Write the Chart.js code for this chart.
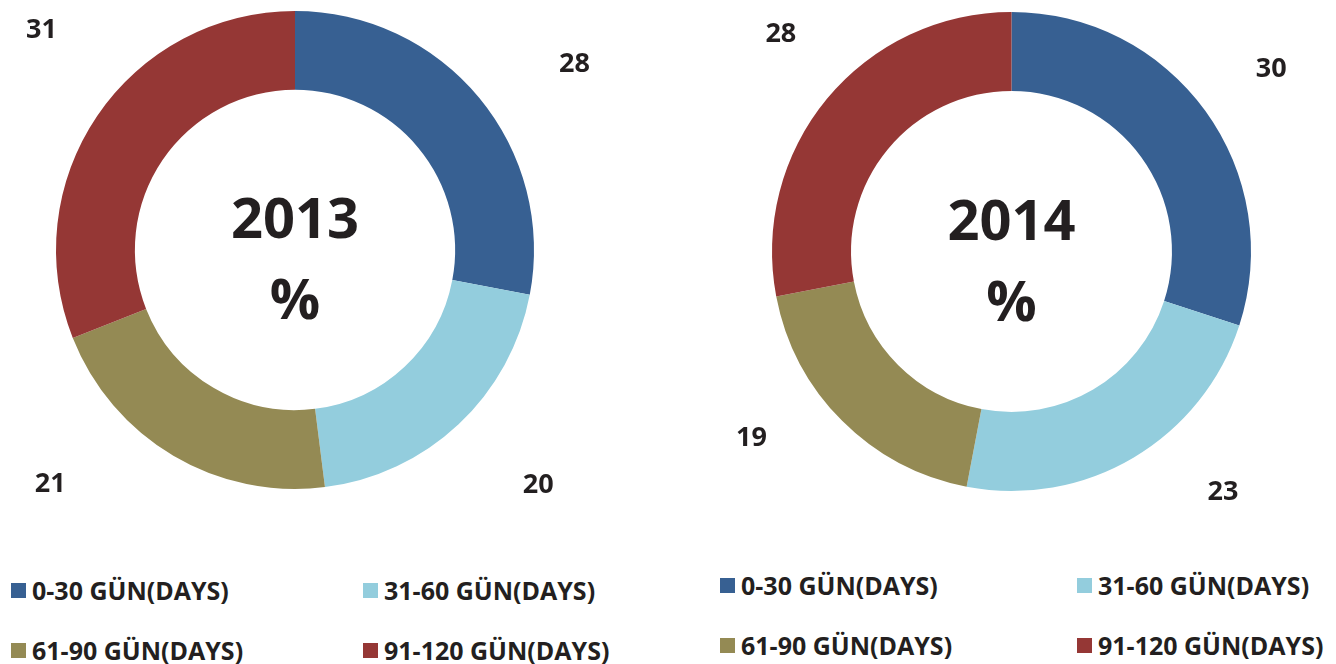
<!DOCTYPE html>
<html>
<head>
<meta charset="utf-8">
<script src="https://cdn.jsdelivr.net/npm/chart.js@4.4.1/dist/chart.umd.min.js"></script>
<style>
  html, body { margin: 0; padding: 0; background: #fff; }
  body { width: 1336px; height: 664px; position: relative; overflow: hidden; font-family: "Open Sans", Lato, sans-serif; }
  .chartBox { position: absolute; top: 0; width: 668px; height: 545px; }
  .legend { position: absolute; display: grid; grid-auto-rows: 30px; row-gap: 30px; }
  .legend .item { display: flex; align-items: center; line-height: 30px; height: 30px; font-weight: bold; font-size: 25px; color: #231f20; white-space: nowrap; }
  .legend .box { width: 15px; height: 15px; margin-right: 6px; flex: none; }
</style>
</head>
<body>
<div class="chartBox" style="left:0"><canvas id="chart2013"></canvas></div>
<div class="chartBox" style="left:668px"><canvas id="chart2014"></canvas></div>
<div class="legend" id="legend2013" style="left:11px; top:575px; grid-template-columns: 352px 300px;"></div>
<div class="legend" id="legend2014" style="left:720px; top:570px; grid-template-columns: 357px 260px;"></div>

<script>
// Categories and series values (percent)
const categories = ['0-30 GÜN(DAYS)', '31-60 GÜN(DAYS)', '61-90 GÜN(DAYS)', '91-120 GÜN(DAYS)'];
const values2013 = [28, 20, 21, 31];
const values2014 = [30, 23, 19, 28];
const colors = ['#376092', '#93cddd', '#948a54', '#953735'];

const textColor = '#231f20';
const fontFamily = '"Open Sans", Lato, sans-serif';

// Draws the year and % in the hole
const centerTextPlugin = {
    id: 'centerText',
    afterDraw(chart, args, opts) {
        const ctx = chart.ctx;
        const area = chart.chartArea;
        const cx = (area.left + area.right) / 2;
        const cy = (area.top + area.bottom) / 2;
        ctx.save();
        ctx.fillStyle = textColor;
        ctx.font = 'bold 56px ' + fontFamily;
        ctx.textAlign = 'center';
        ctx.textBaseline = 'alphabetic';
        ctx.fillText(opts.title, cx, cy - 12);
        ctx.fillText('%', cx, cy + 69);
        ctx.restore();
    }
};

// Value labels outside the ring
const outerLabelsPlugin = {
    id: 'outerLabels',
    afterDatasetsDraw(chart, args, opts) {
        const ctx = chart.ctx;
        const meta = chart.getDatasetMeta(0);
        const values = chart.data.datasets[0].data;
        ctx.save();
        ctx.fillStyle = textColor;
        ctx.font = 'bold 27px ' + fontFamily;
        ctx.textAlign = 'center';
        ctx.textBaseline = 'alphabetic';
        meta.data.forEach((arc, i) => {
            const p = arc.getProps(['x', 'y', 'startAngle', 'endAngle', 'outerRadius'], true);
            const mid = (p.startAngle + p.endAngle) / 2 + (opts.nudge[i] || 0) * Math.PI / 180;
            const r = p.outerRadius * opts.distance;
            const x = p.x + Math.cos(mid) * r;
            const y = p.y + Math.sin(mid) * r;
            ctx.fillText(values[i], x, y + 10);
        });
        ctx.restore();
    }
};

function makeChart(id, values, title, padding, nudge, distance) {
    const ctx = document.getElementById(id).getContext('2d');
    return new Chart(ctx, {
        type: 'doughnut',
        data: {
            labels: categories,
            datasets: [{
                data: values,
                backgroundColor: colors,
                borderWidth: 0,
                hoverOffset: 0
            }]
        },
        options: {
            responsive: true,
            maintainAspectRatio: false,
            animation: false,
            cutout: '67%',
            layout: { padding: padding },
            plugins: {
                legend: { display: false },
                tooltip: { enabled: false },
                centerText: { title: title },
                outerLabels: { nudge: nudge, distance: distance }
            }
        },
        plugins: [centerTextPlugin, outerLabelsPlugin]
    });
}

function buildLegend(id) {
    const legend = document.getElementById(id);
    // row 1 = 0-30, 31-60 ; row 2 = 61-90, 91-120
    categories.forEach((cat, i) => {
        const item = document.createElement('div');
        item.className = 'item';
        item.innerHTML = `<span class="box" style="background:${colors[i]}"></span><span>${cat}</span>`;
        legend.appendChild(item);
    });
}

makeChart('chart2013', values2013, '2013', { left: 56, right: 134, top: 11, bottom: 56 }, [5.6, -3, 16, 7], 1.41);
makeChart('chart2014', values2014, '2014', { left: 104, right: 85, top: 12, bottom: 54 }, [0.6, -11, 9.7, 4], 1.33);
buildLegend('legend2013');
buildLegend('legend2014');
</script>
</body>
</html>
